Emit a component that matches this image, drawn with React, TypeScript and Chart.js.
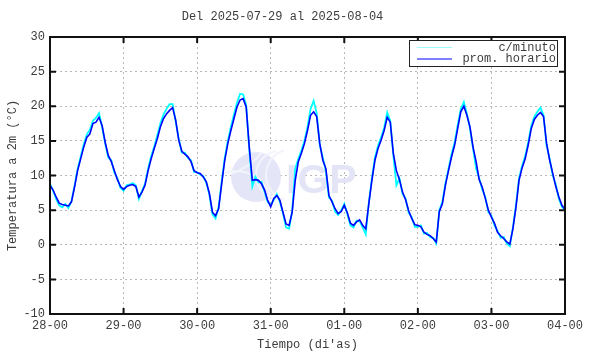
import React, { useEffect, useRef } from 'react';
import { Chart, registerables } from 'chart.js';

Chart.register(...registerables);

const TITLE = 'Del 2025-07-29 al 2025-08-04';
const X_TITLE = "Tiempo (di'as)";
const Y_TITLE = 'Temperatura a 2m (°C)';
const DAY_LABELS = ['28-00', '29-00', '30-00', '31-00', '01-00', '02-00', '03-00', '04-00'];
const Y_MIN = -10;
const Y_MAX = 30;
const Y_STEP = 5;
const LEGEND_LABELS = ['c/minuto', 'prom. horario'];

// hourly mean temperature, one value per hour for each day
const day28 = [8.6, 7.9, 6.9, 6.0, 5.8, 5.7, 5.6, 6.2, 8.3, 10.7, 12.4, 14.1, 15.5, 16.0, 17.5, 17.7, 18.4, 17.2, 14.8, 12.9, 12.0, 10.7, 9.4, 8.4];
const day29 = [8.0, 8.4, 8.6, 8.7, 8.4, 6.9, 7.6, 8.6, 10.7, 12.4, 13.9, 15.3, 17.0, 18.2, 18.9, 19.4, 19.8, 18.0, 15.1, 13.5, 13.1, 12.7, 12.0, 10.7];
const day30 = [10.4, 10.3, 9.8, 9.1, 7.4, 4.7, 4.2, 5.2, 8.8, 12.2, 14.6, 16.5, 18.2, 19.9, 20.9, 21.1, 19.9, 14.1, 9.3, 9.4, 9.3, 8.8, 7.9, 6.4];
const day31 = [5.5, 6.7, 7.1, 6.4, 4.7, 3.0, 2.8, 4.7, 9.3, 12.0, 13.2, 14.6, 16.5, 18.7, 19.2, 18.5, 14.6, 12.2, 11.0, 7.1, 6.2, 5.2, 4.5, 4.8];
const day01 = [5.7, 4.6, 3.1, 2.8, 3.3, 3.6, 2.8, 2.3, 5.9, 9.3, 12.2, 13.9, 15.1, 16.5, 18.4, 17.7, 13.2, 10.7, 9.4, 7.6, 6.5, 4.9, 3.8, 2.9];
const day02 = [2.8, 2.6, 1.8, 1.5, 1.3, 0.9, 0.4, 4.8, 5.9, 8.6, 10.7, 12.7, 14.4, 16.8, 19.2, 20.0, 18.7, 17.0, 14.1, 12.0, 9.4, 8.3, 6.7, 5.0];
const day03 = [4.0, 3.1, 1.8, 1.3, 0.9, 0.4, 0.1, 2.3, 5.4, 9.3, 11.1, 12.4, 14.4, 16.8, 18.1, 18.7, 19.1, 18.5, 14.6, 12.2, 10.3, 8.4, 6.9, 5.7];
const lastHour = [5.1];

// per-minute series (sampled hourly, with the visible excursions)
const min28 = [8.8, 7.8, 6.6, 5.7, 5.4, 5.9, 5.3, 6.3, 8.5, 10.9, 12.7, 14.5, 15.9, 16.6, 17.9, 18.3, 19.0, 17.0, 14.6, 12.6, 12.2, 10.4, 9.6, 8.2];
const min29 = [7.8, 8.6, 8.7, 8.9, 8.6, 6.6, 7.8, 8.8, 11.0, 12.8, 14.2, 15.8, 17.5, 18.8, 19.6, 20.3, 20.3, 17.8, 15.3, 13.3, 13.3, 12.5, 12.2, 10.5];
const min30 = [10.5, 10.1, 9.9, 8.9, 7.2, 4.4, 3.8, 5.4, 9.1, 12.5, 15.0, 17.0, 18.8, 20.5, 21.8, 21.7, 20.2, 13.8, 8.4, 9.8, 9.0, 9.1, 7.6, 6.2];
const min31 = [5.7, 6.5, 7.3, 6.2, 4.5, 2.5, 2.3, 4.9, 11.0, 12.4, 13.6, 15.0, 17.0, 19.6, 20.8, 19.0, 14.4, 12.6, 10.6, 6.8, 6.4, 4.8, 4.3, 5.0];
const min01 = [5.9, 4.4, 2.8, 2.5, 3.5, 3.4, 2.5, 1.5, 6.1, 9.6, 12.6, 14.3, 15.5, 16.9, 19.1, 17.9, 12.9, 8.6, 9.6, 7.3, 6.7, 4.6, 4.0, 2.6];
const min02 = [2.6, 2.8, 1.6, 1.7, 1.1, 1.0, 0.2, 5.0, 6.2, 8.9, 11.0, 13.1, 14.8, 17.3, 19.6, 20.6, 18.9, 16.8, 13.9, 11.0, 9.6, 8.0, 6.9, 4.7];
const min03 = [4.2, 2.8, 2.0, 1.0, 1.1, 0.2, -0.2, 2.5, 5.7, 9.6, 11.4, 12.8, 14.8, 17.2, 18.5, 19.2, 19.8, 18.7, 14.3, 12.4, 10.0, 8.7, 6.6, 5.5];
const minLast = [5.0];

const hourlyTemp = [...day28, ...day29, ...day30, ...day31, ...day01, ...day02, ...day03, ...lastHour];
const minuteTemp = [...min28, ...min29, ...min30, ...min31, ...min01, ...min02, ...min03, ...minLast];

const MONO = "'Liberation Mono', 'DejaVu Sans Mono', monospace";
const TEXT_COLOR = '#3c3c3c';
const CYAN = '#00ffff';
const BLUE = '#0000ff';

const decorPlugin = {
  id: 'decor',
  beforeDatasetsDraw(chart: any) {
    const { ctx, chartArea } = chart;
    const cx = chartArea.left + 206;
    const cy = chartArea.top + 140;
    ctx.save();
    // watermark logo
    ctx.fillStyle = '#e5e5f8';
    ctx.beginPath();
    ctx.arc(cx, cy, 25, 0, Math.PI * 2);
    ctx.fill();
    ctx.strokeStyle = '#f3f3fc';
    ctx.lineWidth = 2;
    ctx.beginPath();
    ctx.arc(cx + 24, cy - 2, 24, Math.PI * 0.55, Math.PI * 1.45);
    ctx.stroke();
    ctx.beginPath();
    ctx.arc(cx + 36, cy - 2, 26, Math.PI * 0.6, Math.PI * 1.4);
    ctx.stroke();
    ctx.beginPath();
    ctx.moveTo(cx - 25, cy - 3);
    ctx.quadraticCurveTo(cx - 5, cy - 10, cx + 6, cy - 25);
    ctx.stroke();
    ctx.beginPath();
    ctx.arc(cx - 20, cy + 30, 36, Math.PI * 1.35, Math.PI * 1.9);
    ctx.stroke();
    ctx.fillStyle = '#e4e4f7';
    ctx.font = "bold 41px 'Liberation Sans', Arial, sans-serif";
    ctx.textBaseline = 'alphabetic';
    ctx.fillText('IGP', chartArea.left + 236, chartArea.top + 156);
    ctx.restore();
  },
  afterDatasetsDraw(chart: any) {
    const { ctx, chartArea, scales } = chart;
    const { left, right, top, bottom } = chartArea;
    const xs = scales.x;
    const ys = scales.y;
    ctx.save();
    ctx.strokeStyle = '#111111';
    ctx.lineWidth = 2;
    ctx.strokeRect(left, top, right - left, bottom - top);
    for (let v = Y_MIN; v <= Y_MAX; v += Y_STEP) {
      const y = ys.getPixelForValue(v);
      ctx.beginPath();
      ctx.moveTo(left, y);
      ctx.lineTo(left + 6, y);
      ctx.moveTo(right, y);
      ctx.lineTo(right - 6, y);
      ctx.stroke();
    }
    for (let i = 0; i < DAY_LABELS.length; i++) {
      const x = xs.getPixelForValue(i * 24);
      ctx.beginPath();
      ctx.moveTo(x, bottom);
      ctx.lineTo(x, bottom - 6);
      ctx.moveTo(x, top);
      ctx.lineTo(x, top + 6);
      ctx.stroke();
    }
    // legend box
    const bx1 = right - 156;
    const bx2 = right - 8;
    const by1 = top + 3;
    const by2 = top + 29;
    ctx.fillStyle = '#ffffff';
    ctx.fillRect(bx1, by1, bx2 - bx1, by2 - by1);
    ctx.strokeStyle = '#222222';
    ctx.lineWidth = 1;
    ctx.strokeRect(bx1 + 0.5, by1 + 0.5, bx2 - bx1, by2 - by1);
    const rows = [
      { label: LEGEND_LABELS[0], color: '#9ffcfc', y: by1 + 7.5 },
      { label: LEGEND_LABELS[1], color: BLUE, y: by1 + 19 },
    ];
    ctx.font = `12px ${MONO}`;
    ctx.textAlign = 'right';
    ctx.textBaseline = 'middle';
    rows.forEach((r) => {
      ctx.strokeStyle = r.color;
      ctx.lineWidth = 1.2;
      ctx.beginPath();
      ctx.moveTo(bx1 + 8, r.y);
      ctx.lineTo(bx1 + 43, r.y);
      ctx.stroke();
      ctx.fillStyle = TEXT_COLOR;
      ctx.fillText(r.label, bx2 - 1, r.y);
    });
    ctx.restore();
  },
};

export default function App() {
  const canvasRef = useRef<HTMLCanvasElement | null>(null);

  useEffect(() => {
    const canvas = canvasRef.current;
    if (!canvas) return;
    const hours = hourlyTemp.map((_, i) => i);
    const font = { family: MONO, size: 12, weight: 'normal' as const };
    const chart = new Chart(canvas, {
      type: 'line',
      data: {
        labels: hours,
        datasets: [
          {
            label: LEGEND_LABELS[0],
            data: hours.map((h) => ({ x: h, y: minuteTemp[h] })),
            borderColor: CYAN,
            borderWidth: 1.8,
            pointRadius: 0,
            tension: 0,
            order: 2,
          },
          {
            label: LEGEND_LABELS[1],
            data: hours.map((h) => ({ x: h, y: hourlyTemp[h] })),
            borderColor: BLUE,
            borderWidth: 1.6,
            pointRadius: 0,
            tension: 0,
            order: 1,
          },
        ],
      },
      options: {
        animation: false,
        responsive: false,
        devicePixelRatio: 1,
        layout: { padding: { left: 0, right: 25, top: 0, bottom: 0 } },
        plugins: {
          legend: { display: false },
          tooltip: { enabled: false },
          title: {
            display: true,
            text: TITLE,
            font,
            color: TEXT_COLOR,
            padding: { top: 10, bottom: 12.6 },
          },
        },
        scales: {
          x: {
            type: 'linear',
            min: 0,
            max: (DAY_LABELS.length - 1) * 24,
            afterBuildTicks: (s: any) => {
              s.ticks = DAY_LABELS.map((_, i) => ({ value: i * 24 }));
            },
            afterFit: (s: any) => {
              s.height = 40;
            },
            ticks: {
              callback: (v: any) => DAY_LABELS[Math.round(Number(v) / 24)],
              font,
              color: TEXT_COLOR,
              padding: 5,
              maxRotation: 0,
              autoSkip: false,
            },
            grid: { color: '#b8b8b8', lineWidth: 1, drawTicks: false },
            border: { display: false, dash: [2, 3] },
            title: { display: true, text: X_TITLE, font, color: TEXT_COLOR, padding: { top: 2, bottom: 2 } },
          },
          y: {
            min: Y_MIN,
            max: Y_MAX,
            afterFit: (s: any) => {
              s.width = 50;
            },
            ticks: { stepSize: Y_STEP, font, color: TEXT_COLOR, padding: 5 },
            grid: { color: '#b8b8b8', lineWidth: 1, drawTicks: false },
            border: { display: false, dash: [2, 3] },
            title: { display: true, text: Y_TITLE, font, color: TEXT_COLOR, padding: { top: 6, bottom: 0 } },
          },
        },
      },
      plugins: [decorPlugin],
    } as any);
    return () => chart.destroy();
  }, []);

  return (
    <div style={{ position: 'fixed', left: 0, top: 0, width: 590, height: 354, background: '#ffffff' }}>
      <canvas ref={canvasRef} width={590} height={354} style={{ display: 'block', width: 590, height: 354 }} />
    </div>
  );
}
